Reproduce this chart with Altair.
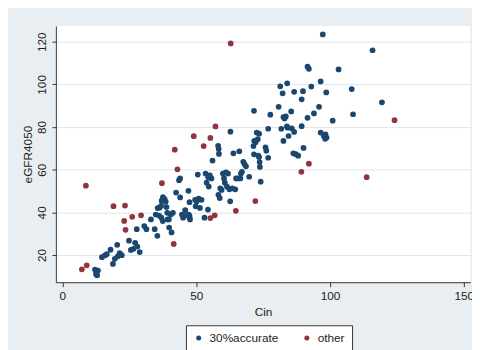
import altair as alt
import pandas as pd

groups = ["30%accurate", "other"]

acc_cin = [
    12.2, 12.7, 13.3, 12.6, 13.0,
    14.8, 15.9, 16.6, 18.0, 18.9, 19.6,
    20.5, 20.7, 21.4, 22.2, 24.9, 25.6, 26.6, 27.2, 28.0, 28.9, 27.8,
    30.6, 31.4, 33.1, 34.5, 35.5, 34.9, 35.6, 36.3, 36.9, 37.1, 37.6, 38.2, 38.6, 38.9,
    37.5, 39.2, 39.3, 39.8, 39.9, 40.8, 40.5, 36.1, 37.0,
    41.3, 42.5, 43.6, 44.0, 44.0, 44.7, 45.1, 45.6, 45.9, 47.1, 47.5, 47.5, 47.7, 47.2,
    47.5, 49.6, 49.8,
    50.2, 50.9, 52.0, 51.4, 50.6, 53.1, 53.5, 53.9, 54.4, 54.7, 55.1, 55.7, 54.5, 56.1,
    58.2, 58.4, 58.5, 58.3, 58.8, 59.5, 59.0,
    60.0, 60.4, 60.7, 61.1, 61.5, 61.9, 62.4, 62.7, 62.8, 63.9, 64.6, 63.5, 65.5, 66.1,
    66.5, 67.1, 67.6, 68.1, 68.6, 69.8, 66.7, 64.9,
    71.4, 71.6, 71.6, 71.7, 72.2, 73.0, 73.5, 72.6, 73.5, 73.7, 73.8, 74.1, 75.9, 76.2,
    76.9, 76.9, 77.7, 73.2,
    80.8, 81.4, 81.8, 82.3, 82.6, 82.6, 83.0, 83.5, 84.0, 84.2, 84.5, 85.5, 85.7, 86.6,
    86.6, 86.3, 88.1, 87.2, 83.9,
    89.4, 89.4, 89.9, 90.1, 91.6, 92.1, 91.6, 93.0, 94.0, 95.9, 96.5, 96.5, 97.3, 97.7,
    98.3, 98.7, 98.2, 98.6,
    101.0, 103.2, 108.1, 108.6, 115.9, 119.4,
]
acc_egfr = [
    13.2, 11.9, 12.7, 11.0, 10.5,
    19.0, 19.8, 20.4, 22.5, 15.8, 18.2,
    24.8, 19.4, 20.9, 19.9, 26.7, 22.4, 22.9, 25.7, 24.0, 21.4, 32.1,
    33.6, 32.1, 36.7, 32.1, 29.0, 39.0, 42.0, 42.2, 43.1, 45.5, 47.1, 46.2, 45.0, 42.5,
    35.9, 39.8, 36.7, 36.7, 32.9, 30.6, 39.0, 38.5, 37.5,
    39.8, 49.3, 55.1, 55.9, 47.0, 39.0, 37.5, 38.4, 41.0, 50.1, 44.8, 38.3, 36.7, 39.0,
    37.5, 45.9, 42.9,
    45.2, 46.5, 45.9, 42.1, 57.7, 37.5, 58.2, 53.9, 41.3, 52.1, 57.4, 55.9, 56.5, 64.3,
    71.2, 69.7, 67.4, 48.2, 46.7, 50.5, 51.3,
    58.2, 55.9, 53.9, 58.7, 52.1, 58.2, 50.8, 45.2, 77.8, 67.7, 50.8, 51.3, 55.9, 68.6,
    55.9, 59.0, 63.7, 62.5, 61.6, 56.7, 58.2, 55.9,
    71.1, 87.6, 67.2, 73.5, 72.9, 74.3, 76.9, 77.4, 65.9, 63.6, 61.3, 54.4, 70.5, 68.9,
    65.6, 79.2, 85.8, 66.6,
    89.5, 99.1, 79.2, 95.8, 84.7, 73.5, 84.0, 85.0, 100.5, 79.7, 75.8, 87.3, 79.4, 96.5,
    77.7, 67.7, 66.6, 67.3, 80.3,
    93.0, 80.4, 96.8, 70.2, 108.3, 107.3, 84.3, 99.0, 86.4, 89.5, 101.4, 77.4, 123.4, 75.8,
    76.6, 75.1, 74.5, 96.2,
    83.0, 107.0, 97.8, 86.0, 116.0, 91.6,
]

oth_cin = [7.3, 9.1, 8.8, 19.1, 23.4, 23.1, 23.6, 26.1, 29.4, 37.2, 42.0, 43.0, 41.6,
           49.1, 52.8, 55.3, 57.2, 62.9, 55.3, 56.9, 64.8, 72.1, 89.3, 92.1, 113.7, 124.1]
oth_egfr = [13.3, 15.2, 52.5, 42.9, 43.2, 36.0, 31.8, 37.9, 38.6, 53.7, 69.4, 60.2, 25.2,
            75.7, 71.1, 74.9, 80.3, 119.2, 37.3, 38.6, 40.7, 45.3, 59.0, 62.8, 56.5, 83.2]

x_ticks = [0, 50, 100, 150]
y_ticks = [20, 40, 60, 80, 100, 120]

df = pd.concat([
    pd.DataFrame({"Cin": acc_cin, "eGFR4050": acc_egfr, "group": groups[0]}),
    pd.DataFrame({"Cin": oth_cin, "eGFR4050": oth_egfr, "group": groups[1]}),
])

FONT = "Liberation Sans"
TXT = "#222222"
AX = "#333333"

chart = alt.Chart(df).mark_circle(size=34, opacity=1).encode(
    x=alt.X("Cin:Q",
            scale=alt.Scale(domain=[-2.42, 152.42], nice=False, zero=False),
            axis=alt.Axis(values=x_ticks, title="Cin", grid=False, tickSize=4.5,
                          labelPadding=4.5, titlePadding=5, labelFlush=False,
                          labelOverlap=False)),
    y=alt.Y("eGFR4050:Q",
            scale=alt.Scale(domain=[7.25, 127.4], nice=False, zero=False),
            axis=alt.Axis(values=y_ticks, title="eGFR4050", grid=True, tickSize=4,
                          labelAngle=270, labelPadding=4, titlePadding=1,
                          labelFlush=False, labelOverlap=False)),
    color=alt.Color("group:N",
                    scale=alt.Scale(domain=groups, range=["#1a476f", "#90353b"]),
                    legend=alt.Legend(title=None, orient="none", legendX=132.3,
                                      legendY=304.5, direction="horizontal",
                                      padding=7, strokeColor="#333333",
                                      fillColor="white", symbolType="circle",
                                      symbolSize=26, symbolStrokeWidth=0,
                                      labelFontSize=12, labelFont=FONT,
                                      labelColor=TXT, labelOffset=5,
                                      columnPadding=22)),
).properties(
    width=421.6,
    height=260.7,
    autosize=alt.AutoSizeParams(type="none"),
    padding={"left": 48.7, "top": 15.3, "right": 1.7, "bottom": 66},
    background="#e8eef1",
).configure_view(
    fill="white", stroke=None
).configure_axis(
    labelFont=FONT, titleFont=FONT, labelFontSize=12, titleFontSize=12,
    labelColor=TXT, titleColor=TXT, titleFontWeight="normal",
    domainColor=AX, tickColor=AX, domainWidth=1, tickWidth=1,
    gridColor="#dbe4e9", gridWidth=1,
)

chart.save("out.html", embed_options={"renderer": "svg", "actions": False})
